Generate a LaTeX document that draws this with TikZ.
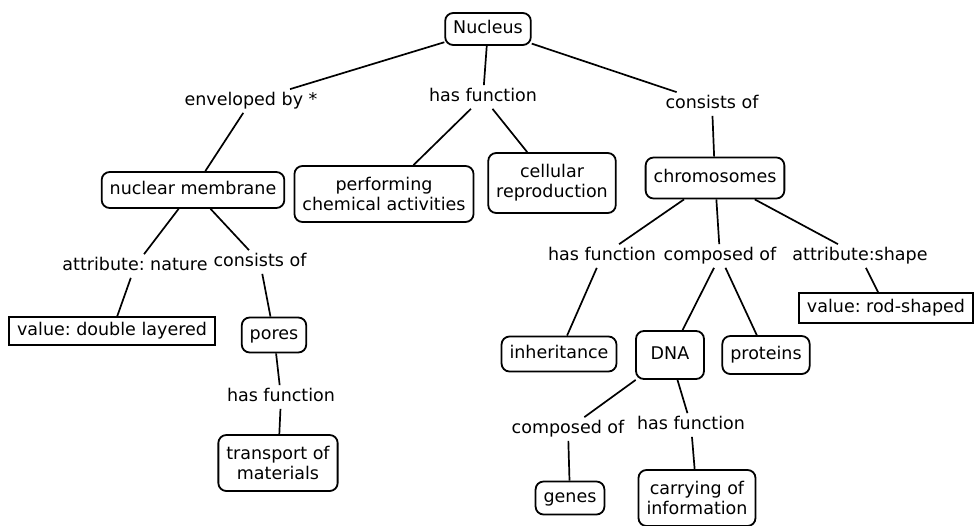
\documentclass[tikz,border=0pt]{standalone}
\usepackage{fontspec}
\setmainfont{DejaVu Sans}
\frenchspacing
\begin{document}
\begin{tikzpicture}[x=1pt, y=-1pt, line width=1.7pt,
  every node/.style={font=\fontsize{17.5}{20}\selectfont},
  concept/.style={draw, rounded corners=8pt, line width=1.8pt, inner xsep=8pt,
    minimum height=35pt, text height=12.5pt, text depth=3.5pt},
  concepttwo/.style={draw, rounded corners=8pt, line width=1.8pt, inner xsep=8pt,
    minimum height=56pt, align=center},
  valuebox/.style={draw, line width=1.5pt, inner xsep=8pt, minimum height=28pt,
    text height=12.5pt, text depth=3.5pt},
  link/.style={inner sep=3pt, text height=12.5pt, text depth=3.5pt}]

  \useasboundingbox (0,0) rectangle (977,525);

  \node[concept, minimum height=32pt] (nuc) at (488,29) {Nucleus};

  \node[link] (env) at (251,101) {enveloped by *};
  \node[link] (hasf) at (483,97) {has function};
  \node[link] (cons) at (712,104) {consists of};

  \node[concept, minimum height=36pt] (memb) at (193,190) {nuclear membrane};
  \node[concepttwo] (perf) at (384,194) {performing\\chemical activities};
  \node[concepttwo, minimum height=60pt] (cell) at (552,183) {cellular\\reproduction};
  \node[concept, minimum height=41pt] (chrom) at (715,178) {chromosomes};

  \node[link] (attn) at (135,266) {attribute: nature};
  \node[link] (consm) at (260,262) {consists of};
  \node[valuebox] (dbl) at (112,331) {value: double layered};
  \node[concept] (pores) at (274,335) {pores};
  \node[link] (hasp) at (281,397) {has function};
  \node[concepttwo] (trans) at (278,463) {transport of\\materials};

  \node[link] (hasc) at (602,256) {has function};
  \node[link] (compc) at (720,256) {composed of};
  \node[link] (atts) at (860,256) {attribute:shape};
  \node[valuebox, minimum height=30pt] (rod) at (886,308) {value: rod-shaped};
  \node[concept] (inh) at (559,354) {inheritance};
  \node[concept, minimum width=68pt, minimum height=48pt] (dna) at (670,355) {DNA};
  \node[concept, minimum height=38pt] (prot) at (766,355) {proteins};

  \node[link] (compd) at (568,429) {composed of};
  \node[link] (hasd) at (691,425) {has function};
  \node[concept, minimum height=33pt] (genes) at (570,498) {genes};
  \node[concepttwo] (carry) at (697,498) {carrying of\\information};

  \draw (nuc) -- (env);
  \draw (nuc) -- (hasf);
  \draw (nuc) -- (cons);
  \draw (env) -- (memb);
  \draw (hasf) -- (perf);
  \draw (hasf) -- (cell);
  \draw (cons) -- (chrom);

  \draw (memb) -- (attn);
  \draw (memb) -- (consm);
  \draw (attn) -- (dbl);
  \draw (consm) -- (pores);
  \draw (pores) -- (hasp);
  \draw (hasp) -- (trans);

  \draw (chrom) -- (hasc);
  \draw (chrom) -- (compc);
  \draw (chrom) -- (atts);
  \draw (atts) -- (rod);
  \draw (hasc) -- (inh);
  \draw (compc) -- (dna);
  \draw (compc) -- (prot);

  \draw (dna) -- (compd);
  \draw (dna) -- (hasd);
  \draw (compd) -- (genes);
  \draw (hasd) -- (carry);
\end{tikzpicture}
\end{document}
